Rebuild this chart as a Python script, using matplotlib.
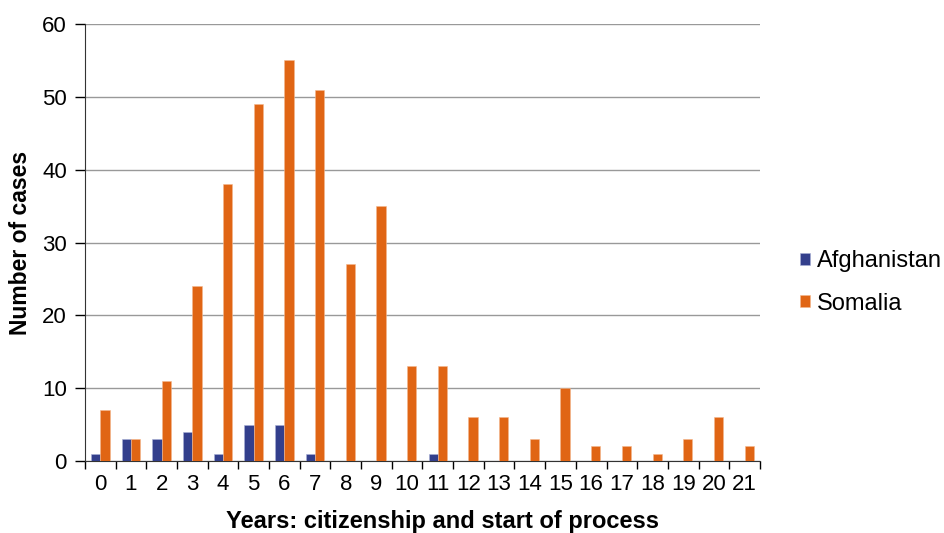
import numpy as np
import matplotlib.pyplot as plt

plt.rcParams['font.family'] = ['Liberation Sans', 'DejaVu Sans']

years = list(range(22))
afghanistan = [1, 3, 3, 4, 1, 5, 5, 1, 0, 0, 0, 1, 0, 0, 0, 0, 0, 0, 0, 0, 0, 0]
somalia = [7, 3, 11, 24, 38, 49, 55, 51, 27, 35, 13, 13, 6, 6, 3, 10, 2, 2, 1, 3, 6, 2]

fig = plt.figure(figsize=(9.44, 5.33), dpi=100)
ax = fig.add_axes([0.090, 0.135, 0.715, 0.82])

x = np.arange(len(years))
w = 0.3
ax.bar(x - w / 2, afghanistan, w, color='#333f8c', edgecolor='#a9b0d6', linewidth=0.4,
       label='Afghanistan', zorder=3)
ax.bar(x + w / 2, somalia, w, color='#e06514', edgecolor='#f4b88e', linewidth=0.4,
       label='Somalia', zorder=3)

ax.set_xlim(-0.5, len(years) - 0.5)
ax.set_ylim(0, 60)
ax.set_yticks(range(0, 61, 10))
ax.yaxis.grid(True, color='#999999', linewidth=1, zorder=0)
ax.set_xticks(x)
ax.set_xticklabels([str(y) for y in years])
ax.set_xticks(np.arange(-0.5, len(years)), minor=True)
ax.tick_params(axis='x', which='major', length=0, labelsize=16, pad=9)
ax.tick_params(axis='x', which='minor', length=6, width=1, direction='out')
ax.tick_params(axis='y', length=7, width=1, labelsize=16, pad=6)

for s in ['top', 'right']:
    ax.spines[s].set_visible(False)
for s in ['left', 'bottom']:
    ax.spines[s].set_color('#333333')

ax.set_ylabel('Number of cases', fontsize=16.5, fontweight='bold')
ax.yaxis.set_label_coords(-0.079, 0.5)
ax.set_xlabel('Years: citizenship and start of process', fontsize=17, fontweight='bold')
ax.xaxis.set_label_coords(0.53, -0.113)

fig.legend(loc='center left', bbox_to_anchor=(0.825, 0.47), frameon=False, fontsize=17,
           handlelength=0.42, handleheight=0.42, handletextpad=0.3, labelspacing=0.85)

fig.savefig('out.png', dpi=100)
